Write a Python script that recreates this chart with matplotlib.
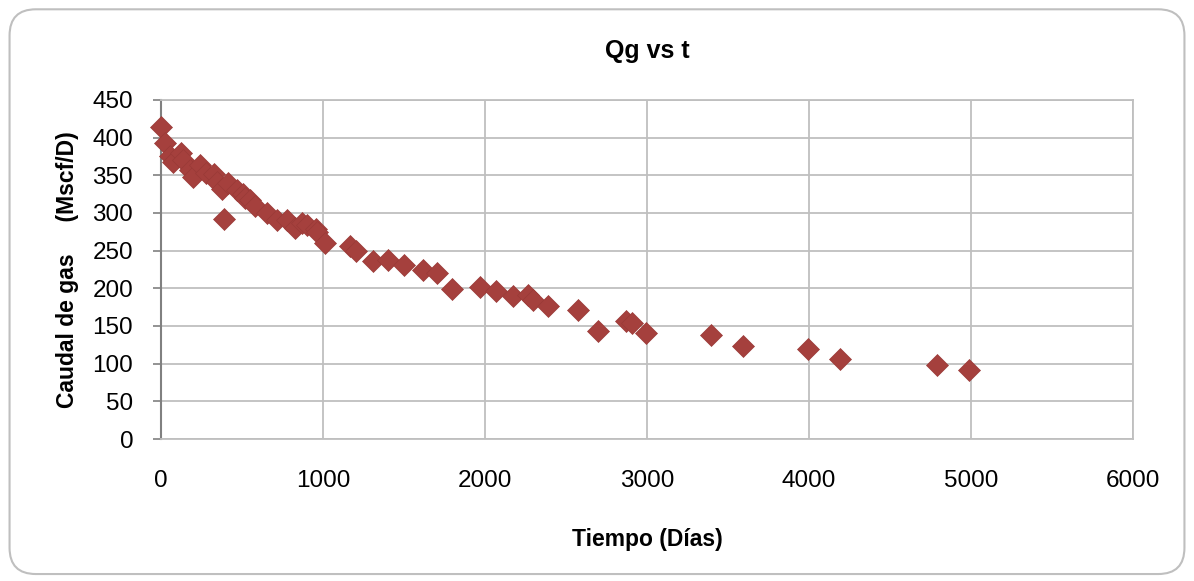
import matplotlib
matplotlib.use("Agg")
import matplotlib.pyplot as plt
from matplotlib.patches import FancyBboxPatch

plt.rcParams['font.family'] = ['Liberation Sans', 'DejaVu Sans']

# tiempo (dias) y caudal de gas (Mscf/D)
dias = [0, 25, 55, 75, 123, 136, 179, 198, 240, 278, 327, 345, 376, 389,
        414, 469, 506, 520, 549, 580, 654, 716, 778, 827, 870, 901, 957,
        963, 1012, 1167, 1204, 1309, 1401, 1500, 1617, 1704, 1796, 1969,
        2068, 2173, 2265, 2296, 2389, 2574, 2698, 2870, 2907, 2994, 3395,
        3593, 3994, 4191, 4790, 4988]
caudal = [414, 393, 376, 368, 380, 370, 357, 348, 364, 353, 352, 341, 332,
          292, 340, 330, 325, 320, 317, 309, 300, 291, 291, 280, 287, 284,
          279, 275, 260, 256, 249, 236, 238, 231, 224, 220, 199, 202, 196,
          190, 191, 184, 176, 171, 143, 157, 154, 141, 138, 124, 120, 106,
          98, 92]

x_ticks = [0, 1000, 2000, 3000, 4000, 5000, 6000]
y_ticks = [0, 50, 100, 150, 200, 250, 300, 350, 400, 450]

fig = plt.figure(figsize=(11.94, 5.81), dpi=100)

# marco redondeado del grafico
frame = FancyBboxPatch((0.008, 0.012), 0.984, 0.972,
                       boxstyle="round,pad=0,rounding_size=0.022",
                       transform=fig.transFigure, facecolor="white",
                       edgecolor="#BFBFBF", linewidth=1.5,
                       mutation_aspect=1194 / 581, zorder=-10)
fig.patches.append(frame)

ax = fig.add_axes([0.1348, 0.2444, 0.8142, 0.5835])
ax.patch.set_alpha(0)

ax.scatter(dias, caudal, marker="D", s=125, color="#A5403D",
           edgecolors="#9A3A37", linewidths=0.5, zorder=3, clip_on=False)

ax.set_xlim(0, 6000)
ax.set_ylim(0, 450)
ax.set_xticks(x_ticks)
ax.set_yticks(y_ticks)
ax.tick_params(axis="both", labelsize=17.5, colors="#000000")
ax.tick_params(axis="x", length=0, pad=22)
ax.tick_params(axis="y", length=6, width=1.2, color="#808080", direction="out", pad=14)

ax.grid(True, color="#BFBFBF", linewidth=1.3)
ax.set_axisbelow(True)
for side in ["top", "right", "bottom"]:
    ax.spines[side].set_color("#BFBFBF")
    ax.spines[side].set_linewidth(1.3)
ax.spines["left"].set_color("#808080")
ax.spines["left"].set_linewidth(1.5)

ax.set_title("Qg vs t", fontsize=18, fontweight="bold", pad=30)
ax.set_xlabel("Tiempo (Días)", fontsize=16.5, fontweight="bold", labelpad=26)
ax.set_ylabel("Caudal de gas     (Mscf/D)", fontsize=16.5, fontweight="bold", labelpad=10)

fig.savefig("out.png", dpi=100)
